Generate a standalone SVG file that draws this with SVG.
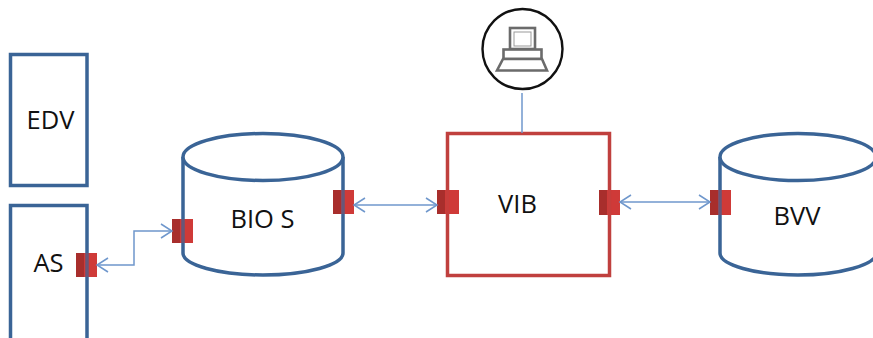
<svg xmlns="http://www.w3.org/2000/svg" width="873" height="338" viewBox="0 0 873 338">
<style>
.b{fill:#fff;stroke:#3a6496;stroke-width:3.5}
.o{fill:none;stroke:#3a6496;stroke-width:3.5}
.r{fill:none;stroke:#c0403e;stroke-width:3.5}
.t{font-family:"Open Sans","Liberation Sans",sans-serif;font-size:25.500px;fill:#111;text-anchor:middle}
.p{fill:#cf3a38}
.d{fill:#a82e2c}
.c{fill:none;stroke:#6f97cc;stroke-width:1.5;marker-start:url(#s);marker-end:url(#e)}
.g{fill:#fff;stroke:#6b6b6b;stroke-width:2.6}
</style>
<defs>
<marker id="e" markerUnits="userSpaceOnUse" markerWidth="14" markerHeight="16" refX="12" refY="8" orient="auto"><path d="M1 1L12 8L1 15" fill="none" stroke="#6f97cc" stroke-width="1.5"/></marker>
<marker id="s" markerUnits="userSpaceOnUse" markerWidth="14" markerHeight="16" refX="2" refY="8" orient="auto"><path d="M13 1L2 8L13 15" fill="none" stroke="#6f97cc" stroke-width="1.5"/></marker>
</defs>
<rect width="873" height="338" fill="#fff"/>
<g id="edv"><rect class="b" x="10.500" y="54.500" width="76.500" height="131"/><text class="t" x="50.500" y="129">EDV</text></g>
<g id="as"><path class="b" d="M10.500 340V205.500H87V340"/><text class="t" x="48.500" y="272">AS</text>
<rect class="p" x="76" y="253" width="21" height="24"/><rect class="d" x="76" y="253" width="8" height="24"/><path class="o" d="M87 253V277" opacity=".7"/></g>
<g id="bios"><path class="b" d="M183 157V253C183 265 219 275 263 275C307 275 343 265 343 253V157"/><ellipse class="b" cx="263" cy="157" rx="80" ry="23.500"/><text class="t" x="262.500" y="228">BIO S</text>
<rect class="p" x="172" y="219" width="21" height="24"/><rect class="d" x="172" y="219" width="8" height="24"/><path class="o" d="M183 219V243" opacity=".7"/>
<rect class="p" x="333" y="190" width="21" height="24"/><rect class="d" x="333" y="190" width="8" height="24"/><path class="o" d="M343 190V214" opacity=".7"/></g>
<g id="vib"><rect class="r" x="447.500" y="133.500" width="162" height="142" style="fill:#fff"/><text class="t" x="517.500" y="213">VIB</text>
<rect class="p" x="437" y="190" width="22" height="24"/><rect class="d" x="437" y="190" width="8" height="24"/><path class="r" d="M447.500 190V214" opacity=".5"/>
<rect class="p" x="599" y="190" width="21" height="25"/><rect class="d" x="599" y="190" width="8" height="25"/><path class="r" d="M609.500 190V215" opacity=".5"/></g>
<g id="bvv"><path class="b" d="M720 157V253C720 265 755 275 798 275C840 275 875 265 877 253V157"/><ellipse class="b" cx="798" cy="157" rx="78" ry="23.500"/><text class="t" x="797" y="225">BVV</text>
<rect class="p" x="710" y="190" width="21" height="25"/><rect class="d" x="710" y="190" width="8" height="25"/><path class="o" d="M720 190V215" opacity=".7"/></g>
<g id="terminal"><circle cx="522.500" cy="49" r="40" fill="#fff" stroke="#111" stroke-width="2.400"/>
<rect class="g" x="510" y="28" width="25" height="21"/><rect x="514" y="32" width="17" height="14" fill="#fff" stroke="#999" stroke-width="1"/><rect class="g" x="503.500" y="49.500" width="38" height="9.500"/><path class="g" d="M503 59H542L547 70.500H497Z"/></g>
<g id="connectors">
<path class="c" d="M97 265H134V231H172"/>
<path class="c" d="M354 205H437"/>
<path class="c" d="M620 202H710"/>
<path d="M522 93V133" fill="none" stroke="#6f97cc" stroke-width="1.500"/>
</g>
</svg>
